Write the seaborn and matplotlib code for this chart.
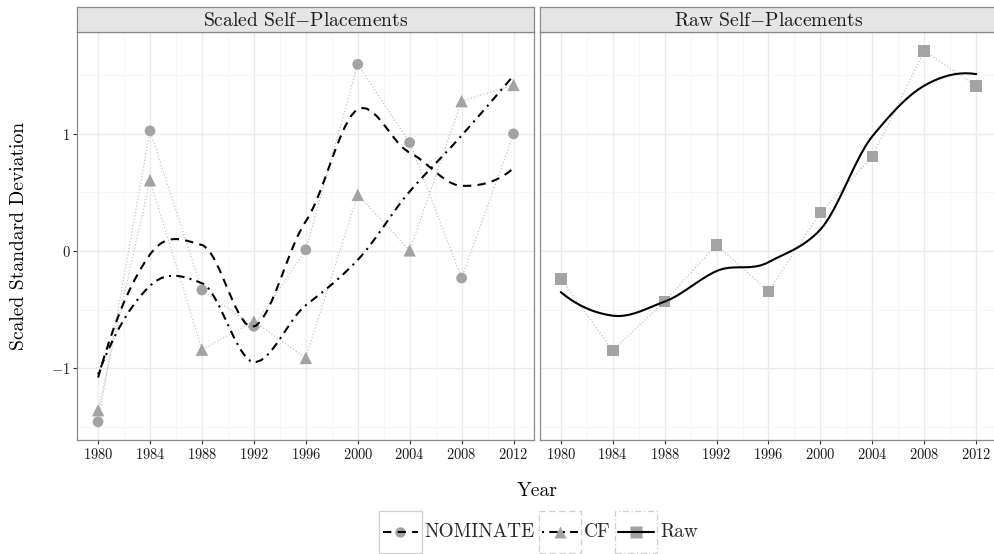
import numpy as np
import pandas as pd
import matplotlib
matplotlib.use("Agg")
import matplotlib.pyplot as plt
import seaborn as sns
from matplotlib.legend_handler import HandlerBase
from matplotlib.patches import Rectangle
from matplotlib.lines import Line2D

# ---------------- data ----------------
years = [1980, 1984, 1988, 1992, 1996, 2000, 2004, 2008, 2012]
nominate = [-1.457, 1.026, -0.332, -0.642, 0.011, 1.594, 0.926, -0.230, 1.000]
cf = [-1.358, 0.605, -0.841, -0.600, -0.912, 0.480, 0.006, 1.280, 1.418]
raw = [-0.236, -0.849, -0.429, 0.054, -0.344, 0.330, 0.807, 1.707, 1.409]
panel_titles = ["Scaled Self$-$Placements", "Raw Self$-$Placements"]
series_names = ["NOMINATE", "CF", "Raw"]
xtick_years = [1980, 1984, 1988, 1992, 1996, 2000, 2004, 2008, 2012]
ytick_vals = [-1, 0, 1]

# ---------------- style ----------------
sns.set_theme(style="white")
plt.rcParams["font.family"] = ["cmr10", "DejaVu Serif"]
plt.rcParams["mathtext.fontset"] = "cm"
plt.rcParams["axes.formatter.use_mathtext"] = True
plt.rcParams["axes.unicode_minus"] = True

PT_GREY = "#a3a3a3"
DOT_GREY = "#c4c4c4"
BORDER = "#8a8a8a"
GRID_MAJ = "#ebebeb"
GRID_MIN = "#f5f5f5"
STRIP_BG = "#e5e5e5"
DASHED = (0, (4, 3))
DOTDASH = (0, (1, 2.5, 4, 2.5))
BIG = 14.1


def local_fit(x, y, x0, span):
    """Local quadratic fit with tricube weights; returns value and slope."""
    n = len(x)
    q = int(np.floor(n * span))
    d = np.abs(x - x0)
    h = np.sort(d)[q - 1]
    w = np.clip(1 - (d / h) ** 3, 0, None) ** 3
    X = np.vstack([np.ones(n), x - x0, (x - x0) ** 2]).T
    sw = np.sqrt(w)
    beta = np.linalg.lstsq(X * sw[:, None], y * sw, rcond=None)[0]
    return beta[0], beta[1]


def loess(x, y, grid, span=0.75):
    """R-style loess: fits at kd-tree vertices + cubic Hermite interpolation."""
    x = np.asarray(x, float)
    y = np.asarray(y, float)
    xs = np.sort(x)
    mu = 0.005 * (xs[-1] - xs[0])
    verts = [xs[0] - mu, xs[-1] + mu]

    def split(lo, hi, vlo, vhi):
        if hi - lo + 1 <= 1:
            return
        m = (lo + hi) // 2
        t = xs[m]
        if t == vlo or t == vhi:
            return
        verts.append(t)
        split(lo, m, vlo, t)
        split(m + 1, hi, t, vhi)

    split(0, len(xs) - 1, verts[0], verts[1])
    verts = np.array(sorted(set(verts)))
    vals = np.array([local_fit(x, y, v, span) for v in verts])
    out = []
    for g in grid:
        i = min(np.searchsorted(verts, g, side="right") - 1, len(verts) - 2)
        a, b = verts[i], verts[i + 1]
        L = b - a
        t = (g - a) / L
        fa, da = vals[i]
        fb, db = vals[i + 1]
        h00 = 2 * t ** 3 - 3 * t ** 2 + 1
        h10 = t ** 3 - 2 * t ** 2 + t
        h01 = -2 * t ** 3 + 3 * t ** 2
        h11 = t ** 3 - t ** 2
        out.append(h00 * fa + h10 * L * da + h01 * fb + h11 * L * db)
    return np.array(out)


grid = np.linspace(min(years), max(years), 80)

pts = pd.DataFrame({"Year": years * 3,
                    "value": nominate + cf + raw,
                    "series": ["NOMINATE"] * 9 + ["CF"] * 9 + ["Raw"] * 9})
smooth = pd.DataFrame({
    "Year": np.concatenate([grid] * 3),
    "value": np.concatenate([loess(years, nominate, grid),
                             loess(years, cf, grid),
                             loess(years, raw, grid)]),
    "series": ["NOMINATE"] * 80 + ["CF"] * 80 + ["Raw"] * 80})

W, H = 994, 554
fig = plt.figure(figsize=(W / 100, H / 100), dpi=100)
fig.patch.set_facecolor("white")


def fx(px):
    return px / W


def fy(py):
    return 1 - py / H


panel_top, panel_bot = 32.3, 440.0
lefts = [77.3, 540.0]
pw = 457.0
axes = []
for i, lx in enumerate(lefts):
    ax = fig.add_axes([fx(lx), fy(panel_bot), pw / W, (panel_bot - panel_top) / H])
    axes.append(ax)
    sax = fig.add_axes([fx(lx), fy(panel_top), pw / W, (panel_top - 7.3) / H])
    sax.set_facecolor(STRIP_BG)
    sax.set_xticks([])
    sax.set_yticks([])
    for s in sax.spines.values():
        s.set_color(BORDER)
        s.set_linewidth(0.9)
    sax.text(0.5, 0.45, panel_titles[i], ha="center", va="center",
             fontsize=BIG, color="#1a1a1a", transform=sax.transAxes)

sub_left = pts[pts.series.isin(["NOMINATE", "CF"])]
sub_right = pts[pts.series == "Raw"]
markers = {"NOMINATE": "o", "CF": "^", "Raw": "s"}
msize = {"NOMINATE": 60, "CF": 80, "Raw": 70}

for ax, sub, names in [(axes[0], sub_left, ["NOMINATE", "CF"]),
                       (axes[1], sub_right, ["Raw"])]:
    ax.set_facecolor("white")
    ax.set_xlim(1978.4, 2013.6)
    ax.set_ylim(-1.612, 1.867)
    ax.set_xticks(xtick_years)
    ax.set_xticks([y + 2 for y in xtick_years[:-1]], minor=True)
    ax.set_yticks(ytick_vals)
    ax.set_yticks([-1.5, -0.5, 0.5, 1.5], minor=True)
    ax.grid(which="major", color=GRID_MAJ, lw=1.0)
    ax.grid(which="minor", color=GRID_MIN, lw=0.6)
    ax.set_axisbelow(True)
    for s in ax.spines.values():
        s.set_color(BORDER)
        s.set_linewidth(0.9)
    for nm in names:
        d = sub[sub.series == nm]
        sns.lineplot(data=d, x="Year", y="value", ax=ax, color=DOT_GREY,
                     lw=0.9, linestyle=":", legend=False, zorder=2)
    for nm in names:
        d = sub[sub.series == nm]
        sns.scatterplot(data=d, x="Year", y="value", ax=ax, color=PT_GREY,
                        marker=markers[nm], s=msize[nm], edgecolor="none",
                        legend=False, zorder=3)
    for nm in names:
        d = smooth[smooth.series == nm]
        ls = {"NOMINATE": DASHED, "CF": DOTDASH, "Raw": "-"}[nm]
        sns.lineplot(data=d, x="Year", y="value", ax=ax, color="black",
                     lw=1.5, linestyle=ls, legend=False, zorder=4)
    ax.set_xlabel("")
    ax.set_ylabel("")
    ax.tick_params(axis="both", which="major", length=3, width=0.8,
                   color="#333333", labelsize=10.4, labelcolor="#1a1a1a",
                   pad=2, bottom=True, left=True)
    ax.tick_params(which="minor", length=0)

axes[1].tick_params(axis="y", labelleft=False, left=False)

fig.text(fx(19), fy((panel_top + panel_bot) / 2), "Scaled Standard Deviation",
         rotation=90, ha="center", va="center", fontsize=BIG, color="black")
fig.text(fx(537), fy(490.7), "Year", ha="center", va="center",
         fontsize=BIG, color="black")


# ---------------- legend ----------------
class KeyHandler(HandlerBase):
    def __init__(self, ls, marker, box_ls, ms):
        super().__init__()
        self.ls, self.marker, self.box_ls, self.ms = ls, marker, box_ls, ms

    def create_artists(self, legend, orig_handle, xdescent, ydescent,
                       width, height, fontsize, trans):
        x0, y0 = -xdescent, -ydescent
        rect = Rectangle((x0, y0), width, height, facecolor="white",
                         edgecolor="#cfcfcf", linestyle=self.box_ls,
                         linewidth=0.9, transform=trans)
        cy = y0 + height / 2
        mk = Line2D([x0 + width / 2], [cy], marker=self.marker, ms=self.ms,
                    color=PT_GREY, mec="none", ls="none", transform=trans)
        ln = Line2D([x0 + 0.08 * width, x0 + 0.92 * width], [cy, cy],
                    color="black", lw=1.5, linestyle=self.ls, transform=trans)
        return [rect, mk, ln]


handles = [Line2D([], []) for _ in series_names]
handlers = {
    handles[0]: KeyHandler(DASHED, "o", "-", 7.5),
    handles[1]: KeyHandler(DOTDASH, "^", (0, (5, 3)), 8.5),
    handles[2]: KeyHandler("-", "s", (0, (5, 2, 1, 2)), 8),
}
leg = fig.legend(handles, series_names, handler_map=handlers, ncol=3,
                 loc="center", bbox_to_anchor=(fx(538.5), fy(531.7)),
                 frameon=False, fontsize=13.9, handlelength=2.2,
                 handleheight=3.0, handletextpad=0.15, columnspacing=0.2,
                 borderpad=0, borderaxespad=0)

fig.savefig("out.png", dpi=100, facecolor="white")
